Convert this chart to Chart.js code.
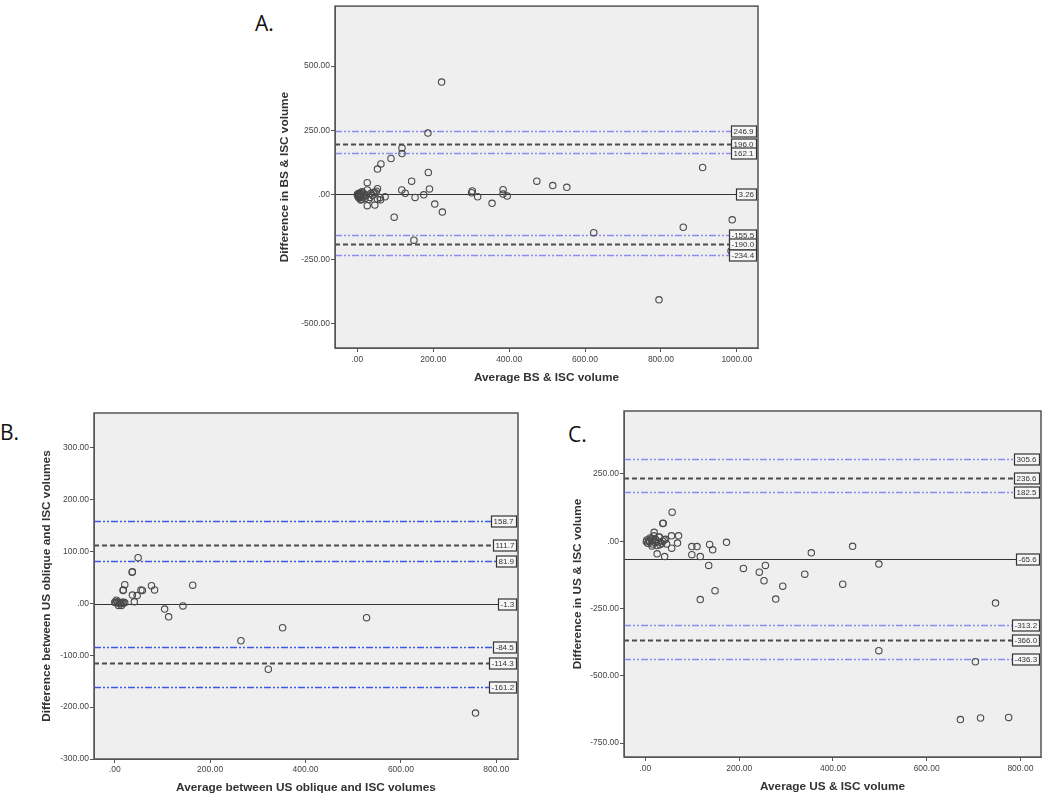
<!DOCTYPE html>
<html>
<head>
<meta charset="utf-8">
<script src="https://cdn.jsdelivr.net/npm/chart.js@4"></script>
<style>
  body { margin: 0; background: #fff; width: 1050px; height: 797px; position: relative; overflow: hidden; }
  canvas { position: absolute; }
  .letra { position: absolute; font: 21px "Open Sans", "Liberation Sans", sans-serif; color: #111; }
</style>
</head>
<body>
<div class="letra" style="left:255px; top:9px">A.</div>
<div class="letra" style="left:0px; top:418px">B.</div>
<div class="letra" style="left:568px; top:420px">C.</div>
<canvas id="graficoA" width="530" height="400" style="left:240px; top:0px"></canvas>
<canvas id="graficoB" width="525" height="397" style="left:0px; top:400px"></canvas>
<canvas id="graficoC" width="520" height="397" style="left:530px; top:400px"></canvas>
<script>
// A. BS x ISC
const mediaA = [222, 186, 117.5, 117.5, 88.6, 62, 53, 187, 143, 473, 515, 552, 910, 303, 384, 190, 117, 126, 175, 152, 204, 224, 97, 149, 301, 317, 355, 384, 395, 623, 859, 988, 795, 985,
  26, 53, 46, 42, 26, 14, 3, 7, 11, 33, 26, 46, 53, 61, 73, 60, 2, 5, 8, 1, 4, 10, 15, 18, 20, 6, 12, 35, 40, 50, 22, 9, 30, 0, 1, 3, 2, 6, 4]
const difA = [438, 240, 182, 160, 141, 120, 100, 87, 53, 53, 36, 29, 106, 15, 20, 23, 19, 6, 0, -10, -36, -67, -87, -176, 8, -8, -33, 3, -5, -147, -126, -97, -408, -218,
  47, 24, 9, 9, 19, 9, -4, -10, -17, -10, -42, -40, -17, -19, -8, -10, 2, -6, 4, -2, -12, -2, -8, 3, -15, 7, 12, 5, -3, 14, -3, -20, -18, 0, 3, 1, -8, -3, 5]
const linhasA = [246.9, 196.0, 162.1, 3.26, -155.5, -190.0, -234.4]
const rotulosA = ['246.9', '196.0', '162.1', '3.26', '-155.5', '-190.0', '-234.4']
const ticksXA = [0, 200, 400, 600, 800, 1000]
const ticksYA = [-500, -250, 0, 250, 500]

// B. US obliquo x ISC
const mediaB = [49, 36.5, 37, 21, 17.5, 18, 77, 83.5, 163.5, 55, 58, 47, 37, 41, 3.5, 0, 7, 14, 19, 14.7, 21, 10, 5, 17, 104.6, 113, 143, 264.6, 322, 352, 528, 756.5, 12, 8, 2]
const difB = [88, 60, 61, 36, 25, 26, 34, 26, 35, 26, 25, 15, 16, 3, 6, 2, 1, -4, 2, 2, 1, 0, 3, 0, -11, -26, -5, -72, -127, -47, -27.5, -211.5, 1, -4, 1]
const linhasB = [158.7, 111.7, 81.9, -1.3, -84.5, -114.3, -161.2]
const rotulosB = ['158.7', '111.7', '81.9', '-1.3', '-84.5', '-114.3', '-161.2']
const ticksXB = [0, 200, 400, 600, 800]
const ticksYB = [-300, -200, -100, 0, 100, 200, 300]

// C. US x ISC
const mediaC = [57, 37, 38, 18.6, 55.7, 70.7, 29, 43, 68.5, 56, 25, 41, 99, 110, 99, 117, 137, 143.5, 173, 135, 209, 243, 256, 253, 148.5, 117, 278, 293, 340, 354, 421, 442, 498, 498, 704, 747, 672, 715, 775,
  3, 9, 16, 30, 37, 45, 25, 15, 31, 5, 12, 20, 7, 2, 10, 22, 35, 28, 14, 18, 40]
const difC = [108, 66, 67, 33, 20, 20, 15, 7, -7, -26, -47, -57, -20, -20, -50, -57, -12, -32, -4, -90, -101, -115, -90, -147, -184, -217, -215, -167, -122.5, -43, -160, -19, -85, -407, -448, -230, -663, -657, -655,
  5, -3, 3, 16, 0, -10, -16, -10, -13, -8, 8, -5, 2, -2, 12, 6, -8, -3, -18, 20, 5]
const linhasC = [305.6, 236.6, 182.5, -65.6, -313.2, -366.0, -436.3]
const rotulosC = ['305.6', '236.6', '182.5', '-65.6', '-313.2', '-366.0', '-436.3']
const ticksXC = [0, 200, 400, 600, 800]
const ticksYC = [-750, -500, -250, 0, 250]

// tipo de cada linha: ic = azul traço-ponto, loa = tracejada, media = continua
const tipos = ['ic', 'loa', 'ic', 'media', 'ic', 'loa', 'ic']

const fonte = '"Liberation Sans", Arial, sans-serif'

function formata(v){
  return v === 0 ? '.00' : v.toFixed(2)
}

const moldura = {
  id: 'moldura',
  beforeDraw(chart){
    const {ctx, chartArea: a} = chart
    ctx.save()
    ctx.fillStyle = '#efefef'
    ctx.fillRect(a.left, a.top, a.right - a.left, a.bottom - a.top)
    ctx.restore()
  },
  afterDraw(chart){
    const {ctx, chartArea: a} = chart
    ctx.save()
    ctx.strokeStyle = '#555'
    ctx.lineWidth = 1.5
    ctx.strokeRect(a.left, a.top, a.right - a.left, a.bottom - a.top)
    ctx.restore()
  }
}

const linhas = {
  id: 'linhas',
  beforeDatasetsDraw(chart, args, opts){
    const {ctx, chartArea: a, scales: {y}} = chart
    ctx.save()
    opts.valores.forEach((v, i) => {
      const py = Math.round(y.getPixelForValue(v)) + 0.5
      const t = tipos[i]
      if(t === 'ic'){
        ctx.strokeStyle = opts.azul
        ctx.lineWidth = 1.5
        ctx.setLineDash([7, 2, 2, 2, 2, 2])
      }else if(t === 'loa'){
        ctx.strokeStyle = '#4d4d4d'
        ctx.lineWidth = 1.8
        ctx.setLineDash([5, 3])
      }else{
        ctx.strokeStyle = '#333'
        ctx.lineWidth = 1.2
        ctx.setLineDash([])
      }
      ctx.beginPath()
      ctx.moveTo(a.left, py)
      ctx.lineTo(a.right - 4, py)
      ctx.stroke()
    })
    ctx.restore()
  },
  afterDatasetsDraw(chart, args, opts){
    const {ctx, chartArea: a, scales: {y}} = chart
    ctx.save()
    ctx.font = '8px ' + fonte
    ctx.textBaseline = 'middle'
    opts.valores.forEach((v, i) => {
      const py = Math.round(y.getPixelForValue(v)) + 0.5
      const txt = opts.rotulos[i]
      const w = Math.ceil(ctx.measureText(txt).width) + 4
      const h = 11
      const x1 = Math.round(a.right - 2 - w) + 0.5
      ctx.fillStyle = '#f6f6f6'
      ctx.fillRect(x1, py - h / 2, w, h)
      ctx.strokeStyle = '#333'
      ctx.lineWidth = 1.2
      ctx.setLineDash([])
      ctx.strokeRect(x1, py - h / 2, w, h)
      ctx.fillStyle = '#333'
      ctx.fillText(txt, x1 + 2, py + 0.5)
    })
    ctx.restore()
  }
}

function criaGrafico(id, p){
  const pontos = p.media.map((m, i) => ({x: m, y: p.dif[i]}))
  return new Chart(document.getElementById(id), {
    type: 'scatter',
    data: {
      datasets: [{
        data: pontos,
        pointRadius: 3.2,
        pointBorderWidth: 1.1,
        borderColor: '#4a4a4a',
        backgroundColor: 'rgba(0,0,0,0)'
      }]
    },
    plugins: [moldura, linhas],
    options: {
      responsive: false,
      animation: false,
      layout: { padding: p.padding },
      plugins: {
        legend: { display: false },
        tooltip: { enabled: false },
        linhas: { valores: p.linhas, rotulos: p.rotulos, azul: p.azul }
      },
      scales: {
        x: {
          type: 'linear',
          min: p.xMin, max: p.xMax,
          afterBuildTicks: s => { s.ticks = p.ticksX.map(v => ({value: v})) },
          afterFit: s => { s.height = p.alturaX },
          ticks: { autoSkip: false, maxRotation: 0, padding: p.padTickX, color: '#444', font: { size: 8.5, family: fonte }, callback: formata },
          grid: { drawOnChartArea: false, tickLength: 4, color: '#555' },
          border: { color: '#555' },
          title: { display: true, text: p.tituloX, color: '#333', padding: { top: 0, bottom: p.padTituloX }, font: { size: 11.8, weight: 'bold', family: fonte } }
        },
        y: {
          min: p.yMin, max: p.yMax,
          afterBuildTicks: s => { s.ticks = p.ticksY.map(v => ({value: v})) },
          afterFit: s => { s.width = p.larguraY },
          ticks: { autoSkip: false, padding: 1, color: '#444', font: { size: 8.5, family: fonte }, callback: formata },
          grid: { drawOnChartArea: false, tickLength: 4, color: '#555' },
          border: { color: '#555' },
          title: { display: true, text: p.tituloY, color: '#333', padding: { top: 0, bottom: 0 }, font: { size: 11.8, weight: 'bold', family: fonte } }
        }
      }
    }
  })
}

criaGrafico('graficoA', {
  media: mediaA, dif: difA, linhas: linhasA, rotulos: rotulosA, azul: '#8c8cf2',
  ticksX: ticksXA, ticksY: ticksYA, xMin: -59, xMax: 1056, yMin: -595, yMax: 733,
  padding: { left: 38, top: 3, right: 12, bottom: 0 }, larguraY: 57, alturaX: 52, padTickX: 3, padTituloX: 15,
  tituloX: 'Average BS & ISC volume', tituloY: 'Difference in BS & ISC volume'
})

criaGrafico('graficoB', {
  media: mediaB, dif: difB, linhas: linhasB, rotulos: rotulosB, azul: '#3b5ce6',
  ticksX: ticksXB, ticksY: ticksYB, xMin: -43.5, xMax: 845.6, yMin: -300, yMax: 367,
  padding: { left: 40, top: 13, right: 7, bottom: 0 }, larguraY: 54, alturaX: 38, padTickX: 2, padTituloX: 2,
  tituloX: 'Average between US oblique and ISC volumes', tituloY: 'Difference between US oblique and ISC volumes'
})

criaGrafico('graficoC', {
  media: mediaC, dif: difC, linhas: linhasC, rotulos: rotulosC, azul: '#8c8cf2',
  ticksX: ticksXC, ticksY: ticksYC, xMin: -45.7, xMax: 844, yMin: -802, yMax: 484,
  padding: { left: 41, top: 11, right: 9, bottom: 0 }, larguraY: 53, alturaX: 40, padTickX: 3, padTituloX: 3,
  tituloX: 'Average US & ISC volume', tituloY: 'Difference in US & ISC volume'
})
</script>
</body>
</html>
